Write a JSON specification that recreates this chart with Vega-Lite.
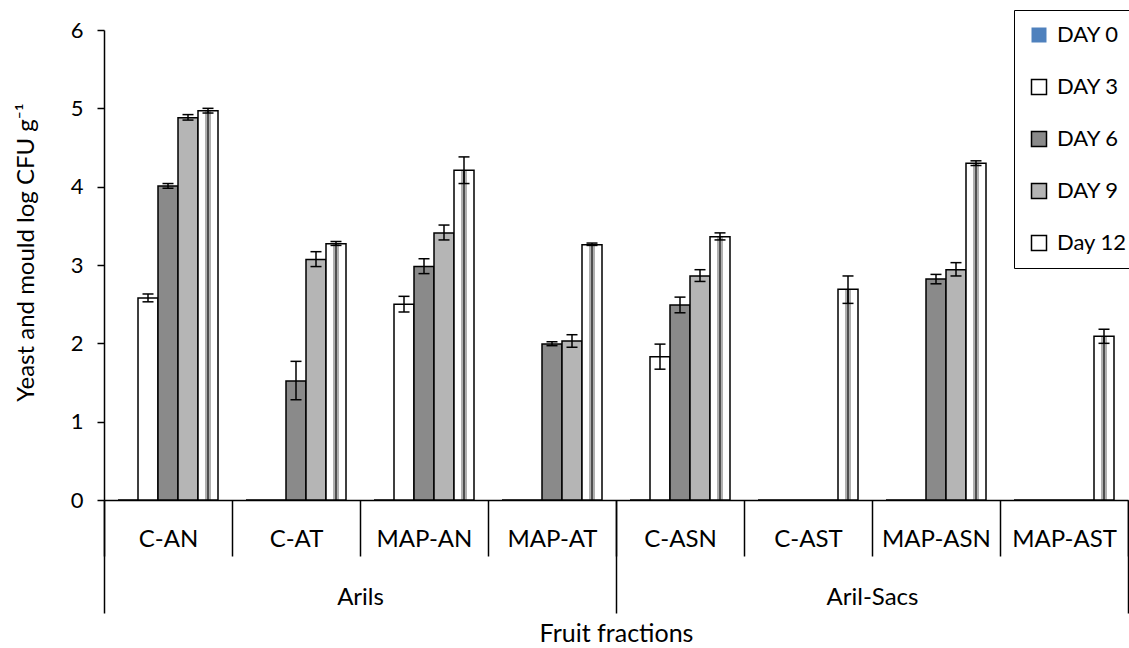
{
  "$schema": "https://vega.github.io/schema/vega-lite/v6.json",
  "width": 1024,
  "height": 470,
  "autosize": {"type": "none"},
  "padding": {"left": 104, "top": 30, "right": 1, "bottom": 148},
  "background": "white",
  "config": {
    "font": "Lato",
    "view": {"stroke": null},
    "axis": {"labelColor": "black", "titleColor": "black", "titleFontWeight": "normal", "labelFont": "Lato", "titleFont": "Lato"},
    "legend": {"labelColor": "black", "labelFont": "Lato"}
  },
  "data": {
    "values": [
      {"cat": "C-AN", "group": "Arils", "day": "DAY 0", "value": 0, "lo": null, "hi": null},
      {"cat": "C-AN", "group": "Arils", "day": "DAY 3", "value": 2.58, "lo": 2.53, "hi": 2.63},
      {"cat": "C-AN", "group": "Arils", "day": "DAY 6", "value": 4.01, "lo": 3.98, "hi": 4.04},
      {"cat": "C-AN", "group": "Arils", "day": "DAY 9", "value": 4.88, "lo": 4.85, "hi": 4.92},
      {"cat": "C-AN", "group": "Arils", "day": "Day 12", "value": 4.97, "lo": 4.94, "hi": 5.0},
      {"cat": "C-AT", "group": "Arils", "day": "DAY 0", "value": 0, "lo": null, "hi": null},
      {"cat": "C-AT", "group": "Arils", "day": "DAY 3", "value": 0, "lo": null, "hi": null},
      {"cat": "C-AT", "group": "Arils", "day": "DAY 6", "value": 1.52, "lo": 1.28, "hi": 1.77},
      {"cat": "C-AT", "group": "Arils", "day": "DAY 9", "value": 3.07, "lo": 2.98, "hi": 3.17},
      {"cat": "C-AT", "group": "Arils", "day": "Day 12", "value": 3.27, "lo": 3.25, "hi": 3.3},
      {"cat": "MAP-AN", "group": "Arils", "day": "DAY 0", "value": 0, "lo": null, "hi": null},
      {"cat": "MAP-AN", "group": "Arils", "day": "DAY 3", "value": 2.5, "lo": 2.4, "hi": 2.6},
      {"cat": "MAP-AN", "group": "Arils", "day": "DAY 6", "value": 2.98, "lo": 2.89, "hi": 3.08},
      {"cat": "MAP-AN", "group": "Arils", "day": "DAY 9", "value": 3.41, "lo": 3.32, "hi": 3.51},
      {"cat": "MAP-AN", "group": "Arils", "day": "Day 12", "value": 4.21, "lo": 4.04, "hi": 4.38},
      {"cat": "MAP-AT", "group": "Arils", "day": "DAY 0", "value": 0, "lo": null, "hi": null},
      {"cat": "MAP-AT", "group": "Arils", "day": "DAY 3", "value": 0, "lo": null, "hi": null},
      {"cat": "MAP-AT", "group": "Arils", "day": "DAY 6", "value": 1.99, "lo": 1.97, "hi": 2.02},
      {"cat": "MAP-AT", "group": "Arils", "day": "DAY 9", "value": 2.03, "lo": 1.95, "hi": 2.11},
      {"cat": "MAP-AT", "group": "Arils", "day": "Day 12", "value": 3.26, "lo": 3.25, "hi": 3.28},
      {"cat": "C-ASN", "group": "Aril-Sacs", "day": "DAY 0", "value": 0, "lo": null, "hi": null},
      {"cat": "C-ASN", "group": "Aril-Sacs", "day": "DAY 3", "value": 1.83, "lo": 1.67, "hi": 1.99},
      {"cat": "C-ASN", "group": "Aril-Sacs", "day": "DAY 6", "value": 2.49, "lo": 2.39, "hi": 2.59},
      {"cat": "C-ASN", "group": "Aril-Sacs", "day": "DAY 9", "value": 2.86, "lo": 2.79, "hi": 2.94},
      {"cat": "C-ASN", "group": "Aril-Sacs", "day": "Day 12", "value": 3.36, "lo": 3.32, "hi": 3.41},
      {"cat": "C-AST", "group": "Aril-Sacs", "day": "DAY 0", "value": 0, "lo": null, "hi": null},
      {"cat": "C-AST", "group": "Aril-Sacs", "day": "DAY 3", "value": 0, "lo": null, "hi": null},
      {"cat": "C-AST", "group": "Aril-Sacs", "day": "DAY 6", "value": 0, "lo": null, "hi": null},
      {"cat": "C-AST", "group": "Aril-Sacs", "day": "DAY 9", "value": 0, "lo": null, "hi": null},
      {"cat": "C-AST", "group": "Aril-Sacs", "day": "Day 12", "value": 2.69, "lo": 2.51, "hi": 2.86},
      {"cat": "MAP-ASN", "group": "Aril-Sacs", "day": "DAY 0", "value": 0, "lo": null, "hi": null},
      {"cat": "MAP-ASN", "group": "Aril-Sacs", "day": "DAY 3", "value": 0, "lo": null, "hi": null},
      {"cat": "MAP-ASN", "group": "Aril-Sacs", "day": "DAY 6", "value": 2.82, "lo": 2.76, "hi": 2.88},
      {"cat": "MAP-ASN", "group": "Aril-Sacs", "day": "DAY 9", "value": 2.94, "lo": 2.86, "hi": 3.03},
      {"cat": "MAP-ASN", "group": "Aril-Sacs", "day": "Day 12", "value": 4.3, "lo": 4.27, "hi": 4.33},
      {"cat": "MAP-AST", "group": "Aril-Sacs", "day": "DAY 0", "value": 0, "lo": null, "hi": null},
      {"cat": "MAP-AST", "group": "Aril-Sacs", "day": "DAY 3", "value": 0, "lo": null, "hi": null},
      {"cat": "MAP-AST", "group": "Aril-Sacs", "day": "DAY 6", "value": 0, "lo": null, "hi": null},
      {"cat": "MAP-AST", "group": "Aril-Sacs", "day": "DAY 9", "value": 0, "lo": null, "hi": null},
      {"cat": "MAP-AST", "group": "Aril-Sacs", "day": "Day 12", "value": 2.09, "lo": 2.0, "hi": 2.18}
    ]
  },
  "layer": [
    {
      "encoding": {
        "x": {
          "field": "cat", "type": "nominal", "sort": null,
          "scale": {"paddingInner": 0, "paddingOuter": 0},
          "axis": {
            "title": null, "orient": "bottom", "tickBand": "extent", "tickSize": 56, "tickColor": "black", "tickWidth": 1.5,
            "domainColor": "black", "domainWidth": 1.5, "labelAngle": 0, "labelFontSize": 24, "labelPadding": -29, "labelBaseline": "top"
          }
        },
        "xOffset": {"field": "day", "type": "nominal", "sort": ["DAY 0", "DAY 3", "DAY 6", "DAY 9", "Day 12"], "scale": {"paddingInner": 0, "paddingOuter": 0.7}}
      },
      "layer": [
        {
          "mark": {"type": "bar", "stroke": "black", "strokeWidth": 1.5},
          "encoding": {
            "y": {
              "field": "value", "type": "quantitative",
              "scale": {"domain": [0, 6], "nice": false},
              "axis": {
                "title": "Yeast and mould log CFU g⁻¹", "values": [0, 1, 2, 3, 4, 5, 6], "format": "d", "grid": false,
                "domainColor": "black", "domainWidth": 1.5, "tickColor": "black", "tickWidth": 1.5, "tickSize": 7,
                "labelFontSize": 22, "labelPadding": 14, "titleFontSize": 24, "titleX": -78, "titleY": 222,
                "titleAngle": 270, "titleAlign": "center", "titleBaseline": "middle"
              }
            },
            "fill": {
              "field": "day", "type": "nominal",
              "condition": {"test": "datum.day === 'Day 12'", "value": {"gradient": "linear", "x1": 0, "y1": 0, "x2": 1, "y2": 0, "stops": [
                {"offset": 0, "color": "white"}, {"offset": 0.35, "color": "white"},
                {"offset": 0.35, "color": "#b0b0b0"}, {"offset": 0.44, "color": "#b0b0b0"},
                {"offset": 0.44, "color": "#505050"}, {"offset": 0.56, "color": "#505050"},
                {"offset": 0.56, "color": "#b0b0b0"}, {"offset": 0.65, "color": "#b0b0b0"},
                {"offset": 0.65, "color": "white"}, {"offset": 1, "color": "white"}
              ]}},
              "scale": {"domain": ["DAY 0", "DAY 3", "DAY 6", "DAY 9", "Day 12"], "range": ["#4F81BD", "#ffffff", "#8a8a8a", "#b5b5b5", "#ffffff"]},
              "legend": {
                "title": null, "orient": "none", "legendX": 910, "legendY": -20, "padding": 14,
                "strokeColor": "black", "fillColor": "white",
                "symbolType": "square", "symbolSize": 225, "symbolStrokeColor": "black", "symbolStrokeWidth": 1.5,
                "labelFontSize": 22, "labelOffset": 7, "rowPadding": 30,
                "encode": {"symbols": {"update": {"stroke": {"signal": "datum.value === 'DAY 0' ? 'transparent' : 'black'"}}}}
              }
            }
          }
        },
        {
          "transform": [{"filter": "datum.lo != null"}],
          "mark": {"type": "rule", "color": "black", "strokeWidth": 1.5},
          "encoding": {"y": {"field": "lo", "type": "quantitative"}, "y2": {"field": "hi"}}
        },
        {
          "transform": [{"filter": "datum.lo != null"}],
          "mark": {"type": "tick", "color": "black", "size": 11, "thickness": 1.5, "opacity": 1},
          "encoding": {"y": {"field": "lo", "type": "quantitative"}}
        },
        {
          "transform": [{"filter": "datum.lo != null"}],
          "mark": {"type": "tick", "color": "black", "size": 11, "thickness": 1.5, "opacity": 1},
          "encoding": {"y": {"field": "hi", "type": "quantitative"}}
        }
      ]
    },
    {
      "mark": {"type": "point", "opacity": 0},
      "encoding": {
        "x": {
          "field": "group", "type": "nominal", "sort": ["Arils", "Aril-Sacs"],
          "scale": {"paddingInner": 0, "paddingOuter": 0},
          "axis": {
            "orient": "bottom", "title": "Fruit fractions", "tickBand": "extent", "tickSize": 113, "tickColor": "black", "tickWidth": 1.5,
            "domain": false, "labelAngle": 0, "labelFontSize": 24, "labelPadding": -28, "labelBaseline": "top",
            "titleFontSize": 25, "titleY": 121, "titleBaseline": "top"
          }
        }
      }
    }
  ],
  "resolve": {"scale": {"x": "independent"}}
}
